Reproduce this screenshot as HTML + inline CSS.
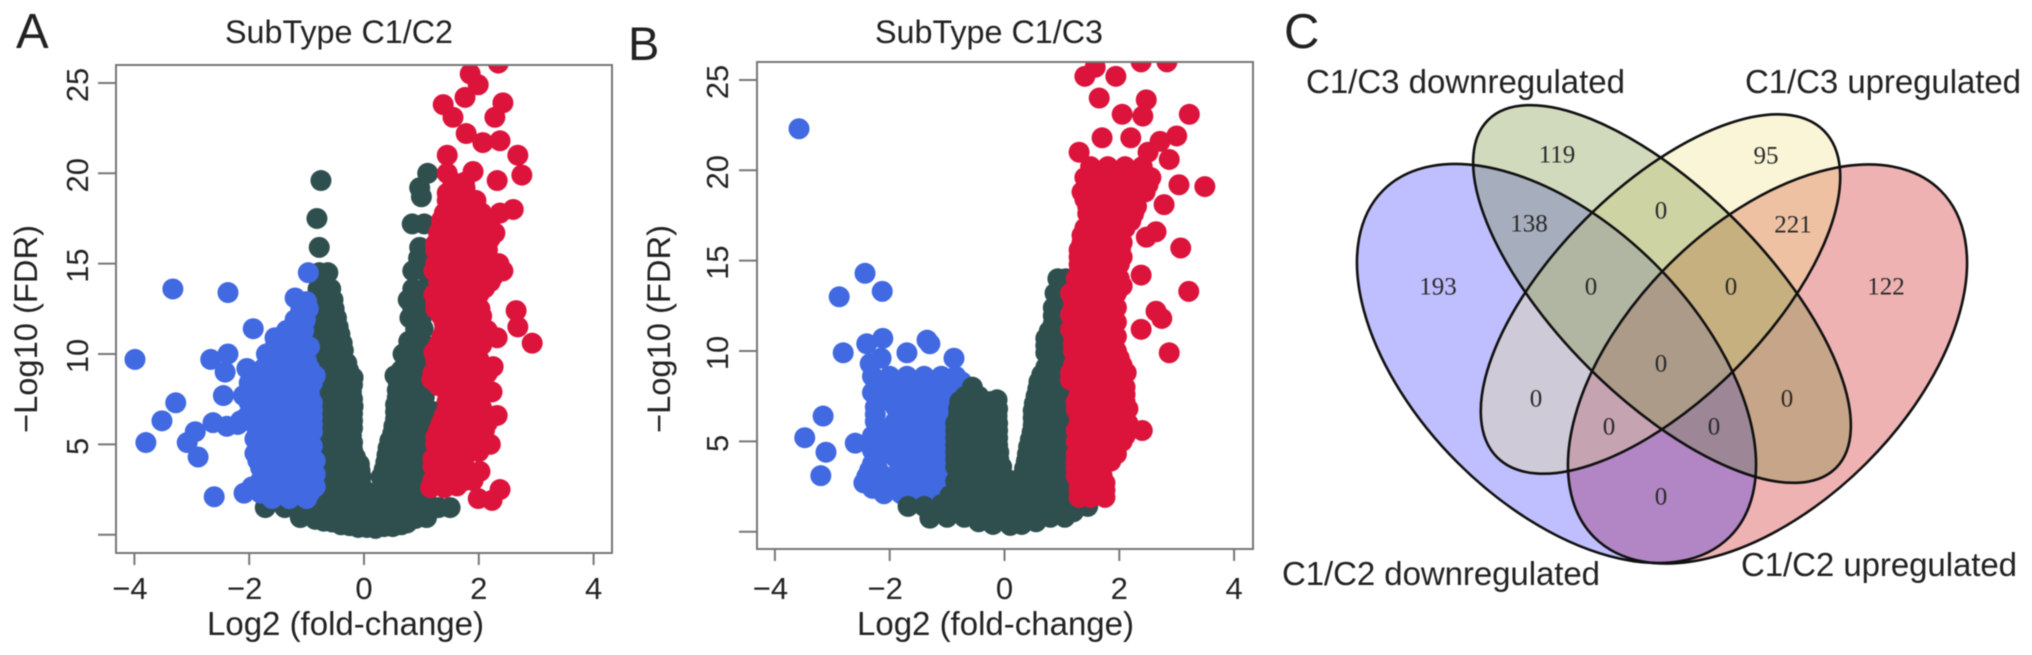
<!DOCTYPE html>
<html lang="en">
<head>
<meta charset="utf-8">
<title>Volcano plots and Venn diagram</title>
<style>
html,body{margin:0;padding:0;background:#fff;width:2032px;height:655px;overflow:hidden}
svg{display:block;filter:blur(.5px)}
text{font-family:"Liberation Sans",sans-serif;fill:#222}
.serif{font-family:"Liberation Serif",serif;font-size:25px;fill:#2a2a2a;text-anchor:middle;dominant-baseline:central}
</style>
</head>
<body>
<svg id="figure" xmlns="http://www.w3.org/2000/svg" width="2032" height="655" viewBox="0 0 2032 655">
  <defs>
    <clipPath id="clip-a"><rect x="116" y="65" width="496" height="488"/></clipPath>
    <clipPath id="clip-b"><rect x="757" y="62" width="496" height="487"/></clipPath>
  </defs>
  <rect width="2032" height="655" fill="#fff"/>

  <text x="16" y="48" font-size="49">A</text>
  <text x="628" y="60" font-size="47">B</text>
  <text x="1284" y="48" font-size="49">C</text>

  <text x="339" y="43" font-size="32.3" text-anchor="middle">SubType C1/C2</text>
  <text x="989" y="43" font-size="32.3" text-anchor="middle">SubType C1/C3</text>

  <g id="panel-a"></g>
  <g id="panel-b"></g>

  <text transform="translate(37,329) rotate(-90)" font-size="32.7" text-anchor="middle">−Log10 (FDR)</text>
  <text x="345.5" y="635" font-size="33" text-anchor="middle">Log2 (fold-change)</text>
  <text transform="translate(670,329) rotate(-90)" font-size="32.7" text-anchor="middle">−Log10 (FDR)</text>
  <text x="995.5" y="635" font-size="33" text-anchor="middle">Log2 (fold-change)</text>

  <g>
    <ellipse cx="1767.5" cy="364" rx="245" ry="140" transform="rotate(-45 1767.5 364)" fill="rgba(200,0,0,.3)"/>
    <ellipse cx="1556.5" cy="363.5" rx="245" ry="140" transform="rotate(45 1556.5 363.5)" fill="rgba(0,0,255,.25)"/>
    <ellipse cx="1660.5" cy="294" rx="231" ry="106" transform="rotate(-45 1660.5 294)" fill="rgba(240,224,133,.33)"/>
    <ellipse cx="1662" cy="294" rx="246" ry="104" transform="rotate(45 1662 294)" fill="rgba(114,139,52,.32)"/>
    <g fill="none" stroke="#111" stroke-width="2.6">
      <ellipse cx="1767.5" cy="364" rx="245" ry="140" transform="rotate(-45 1767.5 364)"/>
      <ellipse cx="1660.5" cy="294" rx="231" ry="106" transform="rotate(-45 1660.5 294)"/>
      <ellipse cx="1662" cy="294" rx="246" ry="104" transform="rotate(45 1662 294)"/>
      <ellipse cx="1556.5" cy="363.5" rx="245" ry="140" transform="rotate(45 1556.5 363.5)"/>
    </g>
    <text class="serif" x="1557" y="155">119</text>
    <text class="serif" x="1766" y="156">95</text>
    <text class="serif" x="1661" y="211">0</text>
    <text class="serif" x="1529" y="224">138</text>
    <text class="serif" x="1793" y="225">221</text>
    <text class="serif" x="1438" y="287">193</text>
    <text class="serif" x="1591" y="287">0</text>
    <text class="serif" x="1731" y="287">0</text>
    <text class="serif" x="1886" y="287">122</text>
    <text class="serif" x="1661" y="364">0</text>
    <text class="serif" x="1536" y="399">0</text>
    <text class="serif" x="1787" y="399">0</text>
    <text class="serif" x="1609" y="427">0</text>
    <text class="serif" x="1714" y="427">0</text>
    <text class="serif" x="1661" y="497">0</text>
    <text x="1306" y="93" font-size="33" textLength="319">C1/C3 downregulated</text>
    <text x="1745" y="93" font-size="33" textLength="276">C1/C3 upregulated</text>
    <text x="1282" y="585" font-size="33" textLength="318">C1/C2 downregulated</text>
    <text x="1741" y="576" font-size="33" textLength="276">C1/C2 upregulated</text>
  </g>
</svg>
<script>
const xTickValues = [-4, -2, 0, 2, 4];
const yTickValues = [0, 5, 10, 15, 20, 25];
const yTickLabelValues = [5, 10, 15, 20, 25];

const panelAGreen = [
[-.75,19.6],[-.82,17.5],[-.78,15.9],[-.63,14.5],[-.78,14.5],[-.58,13.6],[-.8,13.6],[-.54,13],[-.8,13],[-.48,12],[-.75,12],[-.42,11.1],[-.65,11.1],[-.85,11.1],[-.36,10.2],[-.6,10.2],[-.8,10.2],[-.3,9.5],[-.55,9.5],[-.78,9.5],[-.19,8.7],[-.45,8.7],[-.7,8.7],[-.22,7.9],[-.45,7.9],[-.7,7.9],[-.19,7.1],[-.42,7.1],[-.7,7.1],[-.2,6.3],[-.42,6.3],[-.66,6.3],[-.22,5.5],[-.45,5.5],[-.68,5.5],[-.2,4.7],[-.45,4.7],[-.7,4.7],[-.08,3.9],[-.35,3.9],[-.6,3.9],[-.85,3.9],[-.05,3.2],[-.3,3.2],[-.6,3.2],[-.85,3.2],[-.03,2.6],[-.3,2.6],[-.6,2.6],[-.9,2.6],
[-.52,12.5],[-.7,12.5],[-.45,11.5],[-.7,11.5],[-.38,10.6],[-.62,10.6],[-.27,9.1],[-.5,9.1],[-.72,9.1],[-.2,8.3],[-.45,8.3],[-.7,8.3],[-.2,7.5],[-.45,7.5],[-.68,7.5],[-.2,6.7],[-.45,6.7],[-.7,6.7],[-.2,5.9],[-.45,5.9],[-.7,5.9],[-.2,5.1],[-.45,5.1],[-.68,5.1],[-.15,4.3],[-.4,4.3],[-.65,4.3],[-.07,3.55],[-.3,3.55],[-.55,3.55],[-.8,3.55],
[1.11,20],[.97,19.2],[1,18.7],[.84,17.2],[1.05,17.2],[.97,15.9],[.95,15.3],[.85,14.6],[1.06,14.6],[.85,13.6],[1.05,13.6],[.77,13],[.97,13],[1.15,13],[.85,12.5],[1.05,12.5],[.8,12],[1,12],[.9,11.4],[1.03,11.4],[.78,10.7],[1,10.7],[.68,10],[.9,10],[1.1,10],[.72,9.4],[.95,9.4],[.65,9.1],[.85,9.1],[1.05,9.1],[.54,8.8],[.75,8.8],[.98,8.8],[.6,8.4],[.85,8.4],[1.1,8.4],[.58,8],[.8,8],[1.03,8],[.58,7.6],[.82,7.6],[1.05,7.6],[.55,7.2],[.8,7.2],[1.05,7.2],[.55,6.8],[.8,6.8],[1.05,6.8],[1.25,6.8],[.55,6.4],[.8,6.4],[1.05,6.4],[1.2,6.4],[.52,6],[.78,6],[1.02,6],[1.25,6],[.5,5.6],[.75,5.6],[1,5.6],[1.2,5.6],[.45,5.2],[.72,5.2],[.98,5.2],[1.2,5.2],[.42,4.8],[.7,4.8],[.95,4.8],[1.1,4.8],[.4,4.4],[.65,4.4],[.9,4.4],[1.1,4.4],[.38,4],[.65,4],[.9,4],[.35,3.6],[.6,3.6],[.85,3.6],[1.05,3.6],[.3,3.2],[.55,3.2],[.8,3.2],[1,3.2],[.3,2.6],[.6,2.6],[.9,2.6],
[-1,2],[-.7,2],[-.4,2],[-.1,2],[.1,2],[.4,2],[.7,2],[1,2],[-1,1.8],[-.7,1.8],[-.4,1.8],[-.1,1.8],[.2,1.8],[.5,1.8],[.8,1.8],[1.1,1.8],[-1.72,1.5],[-1.38,1.5],[1.5,1.5],[1.3,1.5],[-1.15,1.4],[-.85,1.4],[-.55,1.4],[-.25,1.4],[.05,1.4],[.35,1.4],[.65,1.4],[.95,1.4],[1.15,1.4],[-1.11,.95],[-.85,.85],[-.55,.7],[-.25,.5],[.05,.4],[.35,.45],[.65,.55],[.9,.9],[1.09,.95],[-.4,1.1],[-.1,1.1],[.2,1.1],[.5,1.1],[.8,1.2],[-.7,1.2],[-.7,.75],[-.4,.55],[-.1,.4],[.2,.35],[.5,.45],[.75,.65]
];
const panelABlue = [
[-3.99,9.7],[-3.33,13.6],[-2.37,13.4],[-.97,14.5],[-1.2,13.1],[-1,12.9],[-1.1,12.5],[-.97,12.5],[-1.2,11.9],[-1.02,11.9],[-1.93,11.4],[-1.35,11.3],[-1.05,11.3],[-1.55,10.9],[-1.3,10.9],[-1.1,10.7],[-1.55,10.4],[-1.25,10.4],[-.95,10.4],[-2.67,9.7],[-2.37,10],[-2.42,9],[-2.04,9.2],[-2.45,7.7],[-3.28,7.3],[-3.52,6.3],[-3.8,5.1],[-3.08,5.1],[-2.94,5.7],[-2.89,4.3],[-2.63,6.2],[-2.39,6],[-2.61,2.1],[-2.09,2.3],[-2.15,6.3],
[-1.7,10],[-1.4,10],[-1.1,10],[-1.6,9.6],[-1.3,9.6],[-1,9.6],[-1.75,9.2],[-1.5,9.2],[-1.2,9.2],[-.95,9.2],[-1.9,8.8],[-1.6,8.8],[-1.3,8.8],[-1,8.8],[-.85,8.8],[-2,8.4],[-1.7,8.4],[-1.4,8.4],[-1.1,8.4],[-.9,8.4],[-1.85,8.05],[-1.55,8.05],[-1.25,8.05],[-.95,8.05],[-2.1,7.7],[-1.85,7.7],[-1.55,7.7],[-1.25,7.7],[-.95,7.7],[-2,7.3],[-1.75,7.3],[-1.45,7.3],[-1.15,7.3],[-.9,7.3],[-1.95,6.9],[-1.65,6.9],[-1.35,6.9],[-1.05,6.9],[-.9,6.9],[-2.05,6.5],[-1.8,6.5],[-1.5,6.5],[-1.2,6.5],[-.9,6.5],[-2.2,6.1],[-1.9,6.1],[-1.6,6.1],[-1.3,6.1],[-1,6.1],[-.9,6.1],[-1.75,5.7],[-1.45,5.7],[-1.15,5.7],[-.9,5.7],[-1.9,5.3],[-1.6,5.3],[-1.3,5.3],[-1,5.3],[-1.75,4.9],[-1.45,4.9],[-1.15,4.9],[-.9,4.9],[-1.9,4.5],[-1.6,4.5],[-1.3,4.5],[-1,4.5],[-1.85,4.1],[-1.65,4.1],[-1.35,4.1],[-1.05,4.1],[-.85,4.1],[-1.8,3.7],[-1.5,3.7],[-1.2,3.7],[-.95,3.7],[-1.65,3.35],[-1.35,3.35],[-1.05,3.35],[-.85,3.35],[-1.8,3],[-1.5,3],[-1.2,3],[-.95,3],[-1.95,2.65],[-1.65,2.65],[-1.35,2.65],[-1.05,2.65],[-.85,2.65],[-1.8,2.3],[-1.5,2.3],[-1.2,2.3],[-.95,2.3],[-1.6,2],[-1.3,2],[-1,2]
];
const panelARed = [
[1.85,25.5],[2.34,26.1],[1.99,24.9],[1.76,24.2],[1.38,23.8],[1.55,23.1],[1.78,22.2],[2.07,21.7],[2.37,21.8],[2.42,23.9],[2.28,23.1],[2.68,21],[2.75,19.9],[2.32,19.6],[1.45,21],[1.9,20.1],[1.76,19.2],[1.45,20],[1.55,19.5],[1.75,19.5],[1.45,18.9],[1.45,18.5],[1.65,18.5],[1.95,18.5],[1.6,18.3],[1.85,18.3],[2.6,18],[2.37,17.8],[2.05,17.8],[1.4,17.8],[1.7,17.8],[2.42,14.6],[2.28,16.7],[2.65,12.4],[2.68,11.5],[2.93,10.6],[2.32,10.9],[2.25,9.3],[2.23,7.9],[2.32,6.6],[2.2,5],[2.02,3.5],[1.99,2],[2.23,1.9],[2.37,2.5],
[1.16,2.6],[1.4,2.6],[1.62,2.7],[1.2,3],[1.5,3],[1.75,3],[1.9,3],[1.25,3.4],[1.55,3.4],[1.85,3.4],[1.2,3.8],[1.45,3.8],[1.75,3.8],[1.2,4.2],[1.45,4.2],[1.7,4.2],[1.3,4.6],[1.6,4.6],[1.85,4.6],[2,4.6],[1.25,5],[1.5,5],[1.75,5],[1.95,5],[1.25,5.4],[1.55,5.4],[1.85,5.4],[2.05,5.4],[1.3,5.8],[1.55,5.8],[1.85,5.8],[2.1,5.8],[1.35,6.2],[1.65,6.2],[1.95,6.2],[2.15,6.2],[1.4,6.6],[1.65,6.6],[1.95,6.6],[2.15,6.6],[1.45,7],[1.75,7],[2.05,7],[1.45,7.4],[1.7,7.4],[2,7.4],[1.45,7.9],[1.75,7.9],[2,7.9],[1.3,8.25],[1.55,8.25],[1.85,8.25],[2.1,8.25],[1.18,8.6],[1.45,8.6],[1.7,8.6],[2,8.6],[1.2,8.95],[1.45,8.95],[1.7,8.95],[2,8.95],[2.15,8.95],[1.3,9.3],[1.55,9.3],[1.8,9.3],[2.05,9.3],[1.25,9.7],[1.5,9.7],[1.75,9.7],[2,9.7],[1.22,10.1],[1.5,10.1],[1.75,10.1],[1.95,10.1],[1.3,10.5],[1.55,10.5],[1.85,10.5],[2.05,10.5],[1.35,10.9],[1.6,10.9],[1.85,10.9],[2.1,10.9],[1.4,11.3],[1.7,11.3],[1.95,11.3],[2.15,11.3],[1.4,11.7],[1.65,11.7],[1.95,11.7],[1.35,12.1],[1.6,12.1],[1.9,12.1],[2.05,12.1],[1.25,12.5],[1.5,12.5],[1.8,12.5],[2.02,12.5],[1.25,12.9],[1.55,12.9],[1.85,12.9],[1.22,13.3],[1.5,13.3],[1.75,13.3],[2,13.3],[1.35,13.65],[1.65,13.65],[1.95,13.65],[2.1,13.65],[1.3,14],[1.6,14],[1.9,14],[2.2,14],[1.35,14.3],[1.65,14.3],[1.95,14.3],[2.25,14.3],[1.22,14.6],[1.5,14.6],[1.8,14.6],[2.1,14.6],[1.25,15],[1.55,15],[1.85,15],[2.15,15],[2.35,15],[1.3,15.4],[1.6,15.4],[1.9,15.4],[2.12,15.4],[1.25,15.75],[1.55,15.75],[1.85,15.75],[2.15,15.75],[1.25,16.1],[1.55,16.1],[1.85,16.1],[2.15,16.1],[1.4,16.4],[1.7,16.4],[2,16.4],[2.2,16.4],[1.3,16.7],[1.6,16.7],[1.9,16.7],[1.35,17.05],[1.65,17.05],[1.95,17.05],[2.15,17.05],[1.35,17.4],[1.65,17.4],[1.95,17.4],[2.2,17.4]
];

const panelBGreen = [
[-.56,8],[-.68,7.5],[-.45,7.5],[-.78,7.2],[-.5,7.2],[-.25,7.2],[-.13,7.3],[-.8,6.8],[-.55,6.8],[-.3,6.8],[-.12,6.8],[-.8,6.4],[-.55,6.4],[-.3,6.4],[-.13,6.4],[-.85,6],[-.6,6],[-.35,6],[-.12,6],[-.85,5.6],[-.6,5.6],[-.35,5.6],[-.12,5.6],[-.85,5.2],[-.6,5.2],[-.35,5.2],[-.12,5.2],[-.85,4.8],[-.6,4.8],[-.35,4.8],[-.12,4.8],[-.85,4.4],[-.6,4.4],[-.35,4.4],[-.1,4.4],[-.85,4],[-.6,4],[-.35,4],[-.1,4],[-.85,3.6],[-.55,3.6],[-.3,3.6],[-.05,3.6],[-.8,3.2],[-.55,3.2],[-.3,3.2],[-.05,3.2],[.05,2.9],[-.85,2.8],[-.55,2.8],[-.25,2.8],[0,2.8],[-.8,2.4],[-.5,2.4],[-.2,2.4],[.1,2.4],[.4,2.4],[.7,2.4],[1,2.4],
[.93,14],[1.07,14],[.88,13.2],[1.08,13.2],[.85,12.4],[1,12.4],[.85,11.95],[1.05,11.95],[.85,11.5],[1,11.5],[.78,11.1],[1,11.1],[.72,10.7],[1,10.7],[.72,10.3],[.95,10.3],[1.15,10.3],[.72,9.9],[.95,9.9],[1.15,9.9],[.72,9.1],[.95,9.1],[1.15,9.1],[.65,8.7],[.9,8.7],[1.12,8.7],[.6,8.3],[.85,8.3],[1.1,8.3],[.58,7.9],[.82,7.9],[1.08,7.9],[.55,7.5],[.8,7.5],[1.05,7.5],[1.15,7.5],[.52,7.1],[.78,7.1],[1.05,7.1],[1.15,7.1],[.5,6.7],[.8,6.7],[1.05,6.7],[.5,6.3],[.78,6.3],[1.05,6.3],[.5,5.9],[.75,5.9],[1,5.9],[.48,5.5],[.72,5.5],[.98,5.5],[1.15,5.5],[.45,5.1],[.7,5.1],[.95,5.1],[1.15,5.1],[.42,4.7],[.68,4.7],[.92,4.7],[1.15,4.7],[.4,4.3],[.65,4.3],[.9,4.3],[1.15,4.3],[.38,3.9],[.62,3.9],[.88,3.9],[1.12,3.9],[.35,3.5],[.6,3.5],[.85,3.5],[1.1,3.5],[.32,3.1],[.6,3.1],[.88,3.1],[1.12,3.1],[.3,2.7],[.6,2.7],[.9,2.7],[1.15,2.7],
[-.95,2],[-.65,2],[-.35,2],[-.05,2],[.25,2],[.55,2],[.85,2],[1.1,2],[-1.68,1.4],[-1.4,1.4],[-1.1,1.5],[-.8,1.5],[-.5,1.5],[-.2,1.5],[.1,1.5],[.4,1.5],[.7,1.5],[1,1.5],[1.2,1.5],[1.45,1.4],[-1.15,1.1],[-.85,1.1],[-.55,1.1],[-.25,1.1],[.05,1.1],[.35,1.1],[.65,1.1],[.95,1.1],[1.2,1.1],[-1.3,.75],[-1,.8],[-.7,.8],[-.4,.8],[-.1,.8],[.2,.8],[.5,.8],[.8,.8],[1.05,.8],[-.45,.55],[-.2,.4],[.1,.35],[.3,.4],[.55,.55]
];
const panelBBlue = [
[-3.58,22.3],[-2.43,14.3],[-2.13,13.3],[-2.88,13],[-2.81,9.9],[-2.4,10.4],[-2.12,10.7],[-2.34,9.3],[-2.15,9.6],[-1.35,10.6],[-1.3,10.4],[-1.7,9.9],[-.88,9.6],[-3.16,6.4],[-3.48,5.2],[-3.11,4.4],[-3.2,3.1],
[-2.07,7.5],[-2.07,5.5],[-2.07,5],[-2.07,4.4],[-2.05,3],[-2.07,8],[-.75,8.3],[-.75,7.8],
[-2.3,8.6],[-2,8.6],[-1.7,8.6],[-1.4,8.6],[-1.1,8.6],[-.85,8.6],[-2.15,8.15],[-1.85,8.15],[-1.55,8.15],[-1.25,8.15],[-.95,8.15],[-2.3,7.7],[-2.05,7.7],[-1.75,7.7],[-1.45,7.7],[-1.15,7.7],[-.9,7.7],[-2.2,7.3],[-1.9,7.3],[-1.6,7.3],[-1.3,7.3],[-1,7.3],[-.85,7.3],[-2.25,6.9],[-1.9,6.9],[-1.6,6.9],[-1.3,6.9],[-1,6.9],[-.8,6.9],[-2.25,6.5],[-1.75,6.5],[-1.45,6.5],[-1.15,6.5],[-.9,6.5],[-2.25,6.1],[-1.9,6.1],[-1.6,6.1],[-1.3,6.1],[-1,6.1],[-2.2,5.7],[-1.75,5.7],[-1.45,5.7],[-1.15,5.7],[-.9,5.7],[-2.3,5.3],[-1.85,5.3],[-1.55,5.3],[-1.25,5.3],[-.95,5.3],[-2.6,4.9],[-2.35,4.9],[-2.1,4.9],[-1.8,4.9],[-1.5,4.9],[-1.2,4.9],[-.9,4.9],[-2.3,4.5],[-1.95,4.5],[-1.65,4.5],[-1.35,4.5],[-1.05,4.5],[-2.2,4.1],[-1.9,4.1],[-1.65,4.1],[-1.35,4.1],[-1.05,4.1],[-2.3,3.75],[-1.75,3.75],[-1.5,3.75],[-1.2,3.75],[-.95,3.75],[-2.35,3.4],[-2.2,3.4],[-1.75,3.4],[-1.45,3.4],[-1.15,3.4],[-.9,3.4],[-2.4,3.05],[-2.25,3.05],[-1.95,3.05],[-1.65,3.05],[-1.35,3.05],[-1.05,3.05],[-2.45,2.7],[-2.15,2.7],[-1.85,2.7],[-1.55,2.7],[-1.25,2.7],[-.95,2.7],[-2.3,2.4],[-2,2.4],[-1.7,2.4],[-1.4,2.4],[-1.1,2.4],[-2.1,2.1],[-1.8,2.1],[-1.5,2.1],[-1.2,2.1],[-.9,2.1]
];
const panelBRed = [
[1.4,25.2],[1.58,25.7],[1.94,25.2],[1.65,24],[2.38,26],[2.83,26],[2.47,23.9],[2.05,23.1],[2.41,23],[3.22,23.1],[1.7,21.8],[2.2,21.8],[3,21.9],[2.71,21.6],[2.5,21],[2.87,20.6],[1.3,21],[3.04,19.2],[3.49,19.1],[2.78,18.1],[2.64,16.6],[2.47,16.3],[3.07,15.7],[2.38,14.2],[3.21,13.3],[2.64,12.2],[2.74,11.8],[2.38,11.2],[2.87,9.9],[2.4,5.6],
[1.3,1.9],[1.5,1.9],[1.75,1.9],[1.3,2.3],[1.55,2.3],[1.75,2.3],[1.3,2.7],[1.55,2.7],[1.75,2.7],[1.25,3.1],[1.5,3.1],[1.7,3.1],[1.25,3.5],[1.45,3.5],[1.65,3.5],[1.25,3.9],[1.5,3.9],[1.7,3.9],[1.85,3.9],[1.25,4.3],[1.5,4.3],[1.8,4.3],[1.95,4.3],[1.3,4.65],[1.65,4.65],[1.9,4.65],[1.25,5],[1.5,5],[1.75,5],[2.05,5],[1.3,5.3],[1.6,5.3],[1.9,5.3],[2.1,5.3],[1.25,5.6],[1.5,5.6],[1.8,5.6],[2.1,5.6],[1.3,6],[1.6,6],[1.9,6],[2.15,6],[1.3,6.4],[1.55,6.4],[1.85,6.4],[2.1,6.4],[1.25,6.8],[1.55,6.8],[1.85,6.8],[2.15,6.8],[1.25,7.2],[1.55,7.2],[1.8,7.2],[2.1,7.2],[1.3,7.6],[1.55,7.6],[1.85,7.6],[2.1,7.6],[1.35,8],[1.6,8],[1.9,8],[2.1,8],[1.15,8.4],[1.4,8.4],[1.7,8.4],[2,8.4],[1.15,8.8],[1.4,8.8],[1.7,8.8],[1.95,8.8],[2.12,8.8],[1.2,9.2],[1.5,9.2],[1.8,9.2],[2.05,9.2],[1.25,9.6],[1.5,9.6],[1.75,9.6],[2,9.6],[1.2,10],[1.5,10],[1.75,10],[1.95,10],[1.2,10.4],[1.45,10.4],[1.7,10.4],[1.9,10.4],[1.2,10.8],[1.45,10.8],[1.7,10.8],[1.95,10.8],[1.15,11.2],[1.4,11.2],[1.65,11.2],[1.9,11.2],[1.25,11.6],[1.5,11.6],[1.75,11.6],[1.95,11.6],[1.15,12],[1.4,12],[1.65,12],[1.85,12],[1.2,12.4],[1.5,12.4],[1.75,12.4],[1.95,12.4],[1.2,12.8],[1.45,12.8],[1.7,12.8],[1.9,12.8],[1.15,13.2],[1.45,13.2],[1.75,13.2],[1.95,13.2],[1.3,13.6],[1.6,13.6],[1.9,13.6],[2.05,13.6],[1.25,14],[1.5,14],[1.8,14],[2,14],[1.3,14.4],[1.6,14.4],[1.9,14.4],[1.3,14.8],[1.55,14.8],[1.8,14.8],[2,14.8],[1.3,15.2],[1.55,15.2],[1.85,15.2],[2.05,15.2],[1.3,15.6],[1.55,15.6],[1.8,15.6],[2.02,15.6],[1.35,16],[1.6,16],[1.85,16],[2.05,16],[1.35,16.4],[1.6,16.4],[1.85,16.4],[2,16.4],[1.4,16.8],[1.65,16.8],[1.9,16.8],[2.1,16.8],[1.5,17.2],[1.7,17.2],[1.95,17.2],[2.2,17.2],[1.45,17.6],[1.75,17.6],[2.05,17.6],[2.25,17.6],[1.45,18],[1.7,18],[2,18],[2.3,18],[1.4,18.4],[1.7,18.4],[2,18.4],[2.25,18.4],[1.35,18.8],[1.6,18.8],[1.9,18.8],[2.3,18.8],[2.45,18.8],[1.45,19.2],[1.75,19.2],[2.05,19.2],[2.35,19.2],[2.5,19.2],[1.4,19.6],[1.7,19.6],[1.95,19.6],[2.3,19.6],[2.55,19.6],[1.5,20.2],[1.8,20.2],[2.1,20.2],[2.4,20.2]
];

const SVGNS = 'http://www.w3.org/2000/svg';
const POINT_RADIUS = 10.5;

function drawPoints(group, points, color, xScale, yScale) {
  for (const p of points) {
    const el = document.createElementNS(SVGNS, 'circle');
    
    
    el.setAttribute('cx', xScale(p[0]));
    el.setAttribute('cy', yScale(p[1]));
    el.setAttribute('r', POINT_RADIUS);
    el.setAttribute('fill', color);
    group.appendChild(el);
  }
}

function drawFrameAndTicks(panel, box, xScale, yScale, labelX) {
  const frame = document.createElementNS(SVGNS, 'rect');
  
  
  frame.setAttribute('x', box.left);
  frame.setAttribute('y', box.top);
  frame.setAttribute('width', box.right - box.left);
  frame.setAttribute('height', box.bottom - box.top);
  frame.setAttribute('fill', 'none');
  frame.setAttribute('stroke', '#777');
  frame.setAttribute('stroke-width', '2');
  panel.appendChild(frame);

  for (const v of xTickValues) {
    const tick = document.createElementNS(SVGNS, 'line');
    
    
    tick.setAttribute('x1', xScale(v));
    tick.setAttribute('x2', xScale(v));
    tick.setAttribute('y1', box.bottom);
    tick.setAttribute('y2', box.bottom + 12);
    tick.setAttribute('stroke', '#777');
    tick.setAttribute('stroke-width', '2');
    panel.appendChild(tick);

    const label = document.createElementNS(SVGNS, 'text');
    
    
    label.setAttribute('x', xScale(v) + (v < 0 ? -4.5 : 0));
    label.setAttribute('y', 599);
    label.setAttribute('font-size', '31');
    label.setAttribute('text-anchor', 'middle');
    label.textContent = (v < 0 ? '−' + Math.abs(v) : String(v));
    panel.appendChild(label);
  }

  for (const v of yTickValues) {
    const tick = document.createElementNS(SVGNS, 'line');
    
    
    tick.setAttribute('x1', box.left - 18);
    tick.setAttribute('x2', box.left);
    tick.setAttribute('y1', yScale(v));
    tick.setAttribute('y2', yScale(v));
    tick.setAttribute('stroke', '#777');
    tick.setAttribute('stroke-width', '2');
    panel.appendChild(tick);
  }

  for (const v of yTickLabelValues) {
    const label = document.createElementNS(SVGNS, 'text');
    
    
    label.setAttribute('transform', 'translate(' + labelX + ',' + (yScale(v) + 2) + ') rotate(-90)');
    label.setAttribute('font-size', '31');
    label.setAttribute('text-anchor', 'middle');
    label.textContent = String(v);
    panel.appendChild(label);
  }
}

function makePanel(id, clipId) {
  const panel = document.getElementById(id);
  const marks = document.createElementNS(SVGNS, 'g');
  
  
  marks.setAttribute('clip-path', 'url(#' + clipId + ')');
  panel.appendChild(marks);
  return {panel, marks};
}

const xScaleA = v => 364 + 57.4 * v;
const yScaleA = v => 534.7 - 18.07 * v;
const xScaleB = v => 1004.5 + 57.4 * v;
const yScaleB = v => 531.7 - 18.07 * v;

const plotA = makePanel('panel-a', 'clip-a');
drawPoints(plotA.marks, panelAGreen, '#2F4F4F', xScaleA, yScaleA);
drawPoints(plotA.marks, panelABlue, '#4169E1', xScaleA, yScaleA);
drawPoints(plotA.marks, panelARed, '#DC143C', xScaleA, yScaleA);
drawFrameAndTicks(plotA.panel, {left: 116, top: 65, right: 612, bottom: 553}, xScaleA, yScaleA, 88);

const plotB = makePanel('panel-b', 'clip-b');
drawPoints(plotB.marks, panelBBlue, '#4169E1', xScaleB, yScaleB);
drawPoints(plotB.marks, panelBGreen, '#2F4F4F', xScaleB, yScaleB);
drawPoints(plotB.marks, panelBRed, '#DC143C', xScaleB, yScaleB);
drawFrameAndTicks(plotB.panel, {left: 757, top: 62, right: 1253, bottom: 549}, xScaleB, yScaleB, 728);
</script>
</body>
</html>
